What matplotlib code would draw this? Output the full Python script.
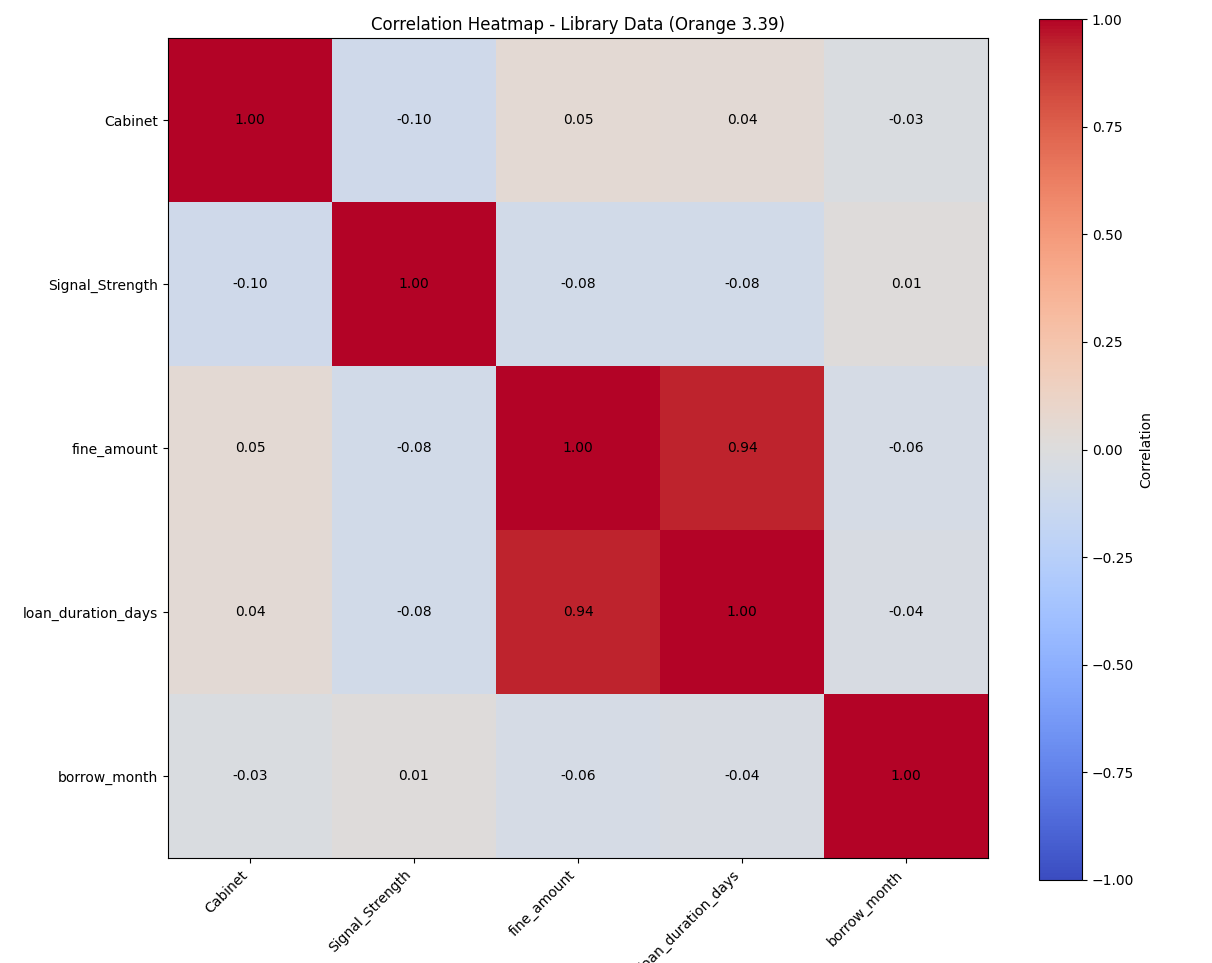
import numpy as np
import matplotlib.pyplot as plt

# variables and correlation matrix
labels = ["Cabinet", "Signal_Strength", "fine_amount", "loan_duration_days", "borrow_month"]
corr = np.array([
    [1.00, -0.10, 0.05, 0.04, -0.03],
    [-0.10, 1.00, -0.08, -0.08, 0.01],
    [0.05, -0.08, 1.00, 0.94, -0.06],
    [0.04, -0.08, 0.94, 1.00, -0.04],
    [-0.03, 0.01, -0.06, -0.04, 1.00],
])

fig = plt.figure(figsize=(12.12, 9.63), dpi=100)
ax = fig.add_axes([0.1386, 0.1090, 0.6766, 0.8515])
cax = fig.add_axes([0.8573, 0.0862, 0.0355, 0.8940])

im = ax.imshow(corr, cmap="coolwarm", vmin=-1, vmax=1, aspect="auto")
ax.set_xticks(range(len(labels)))
ax.set_yticks(range(len(labels)))
ax.set_xticklabels(labels, rotation=45, ha="right", fontsize=10)
ax.set_yticklabels(labels, fontsize=10)

for i in range(len(labels)):
    for j in range(len(labels)):
        ax.text(j, i, f"{corr[i, j]:.2f}", ha="center", va="center", color="black", fontsize=10)

ax.set_title("Correlation Heatmap - Library Data (Orange 3.39)", fontsize=12)

cb = fig.colorbar(im, cax=cax)
cb.set_ticks(np.arange(-1, 1.01, 0.25))
cb.set_label("Correlation", fontsize=10)

fig.savefig("out.png", dpi=100)
